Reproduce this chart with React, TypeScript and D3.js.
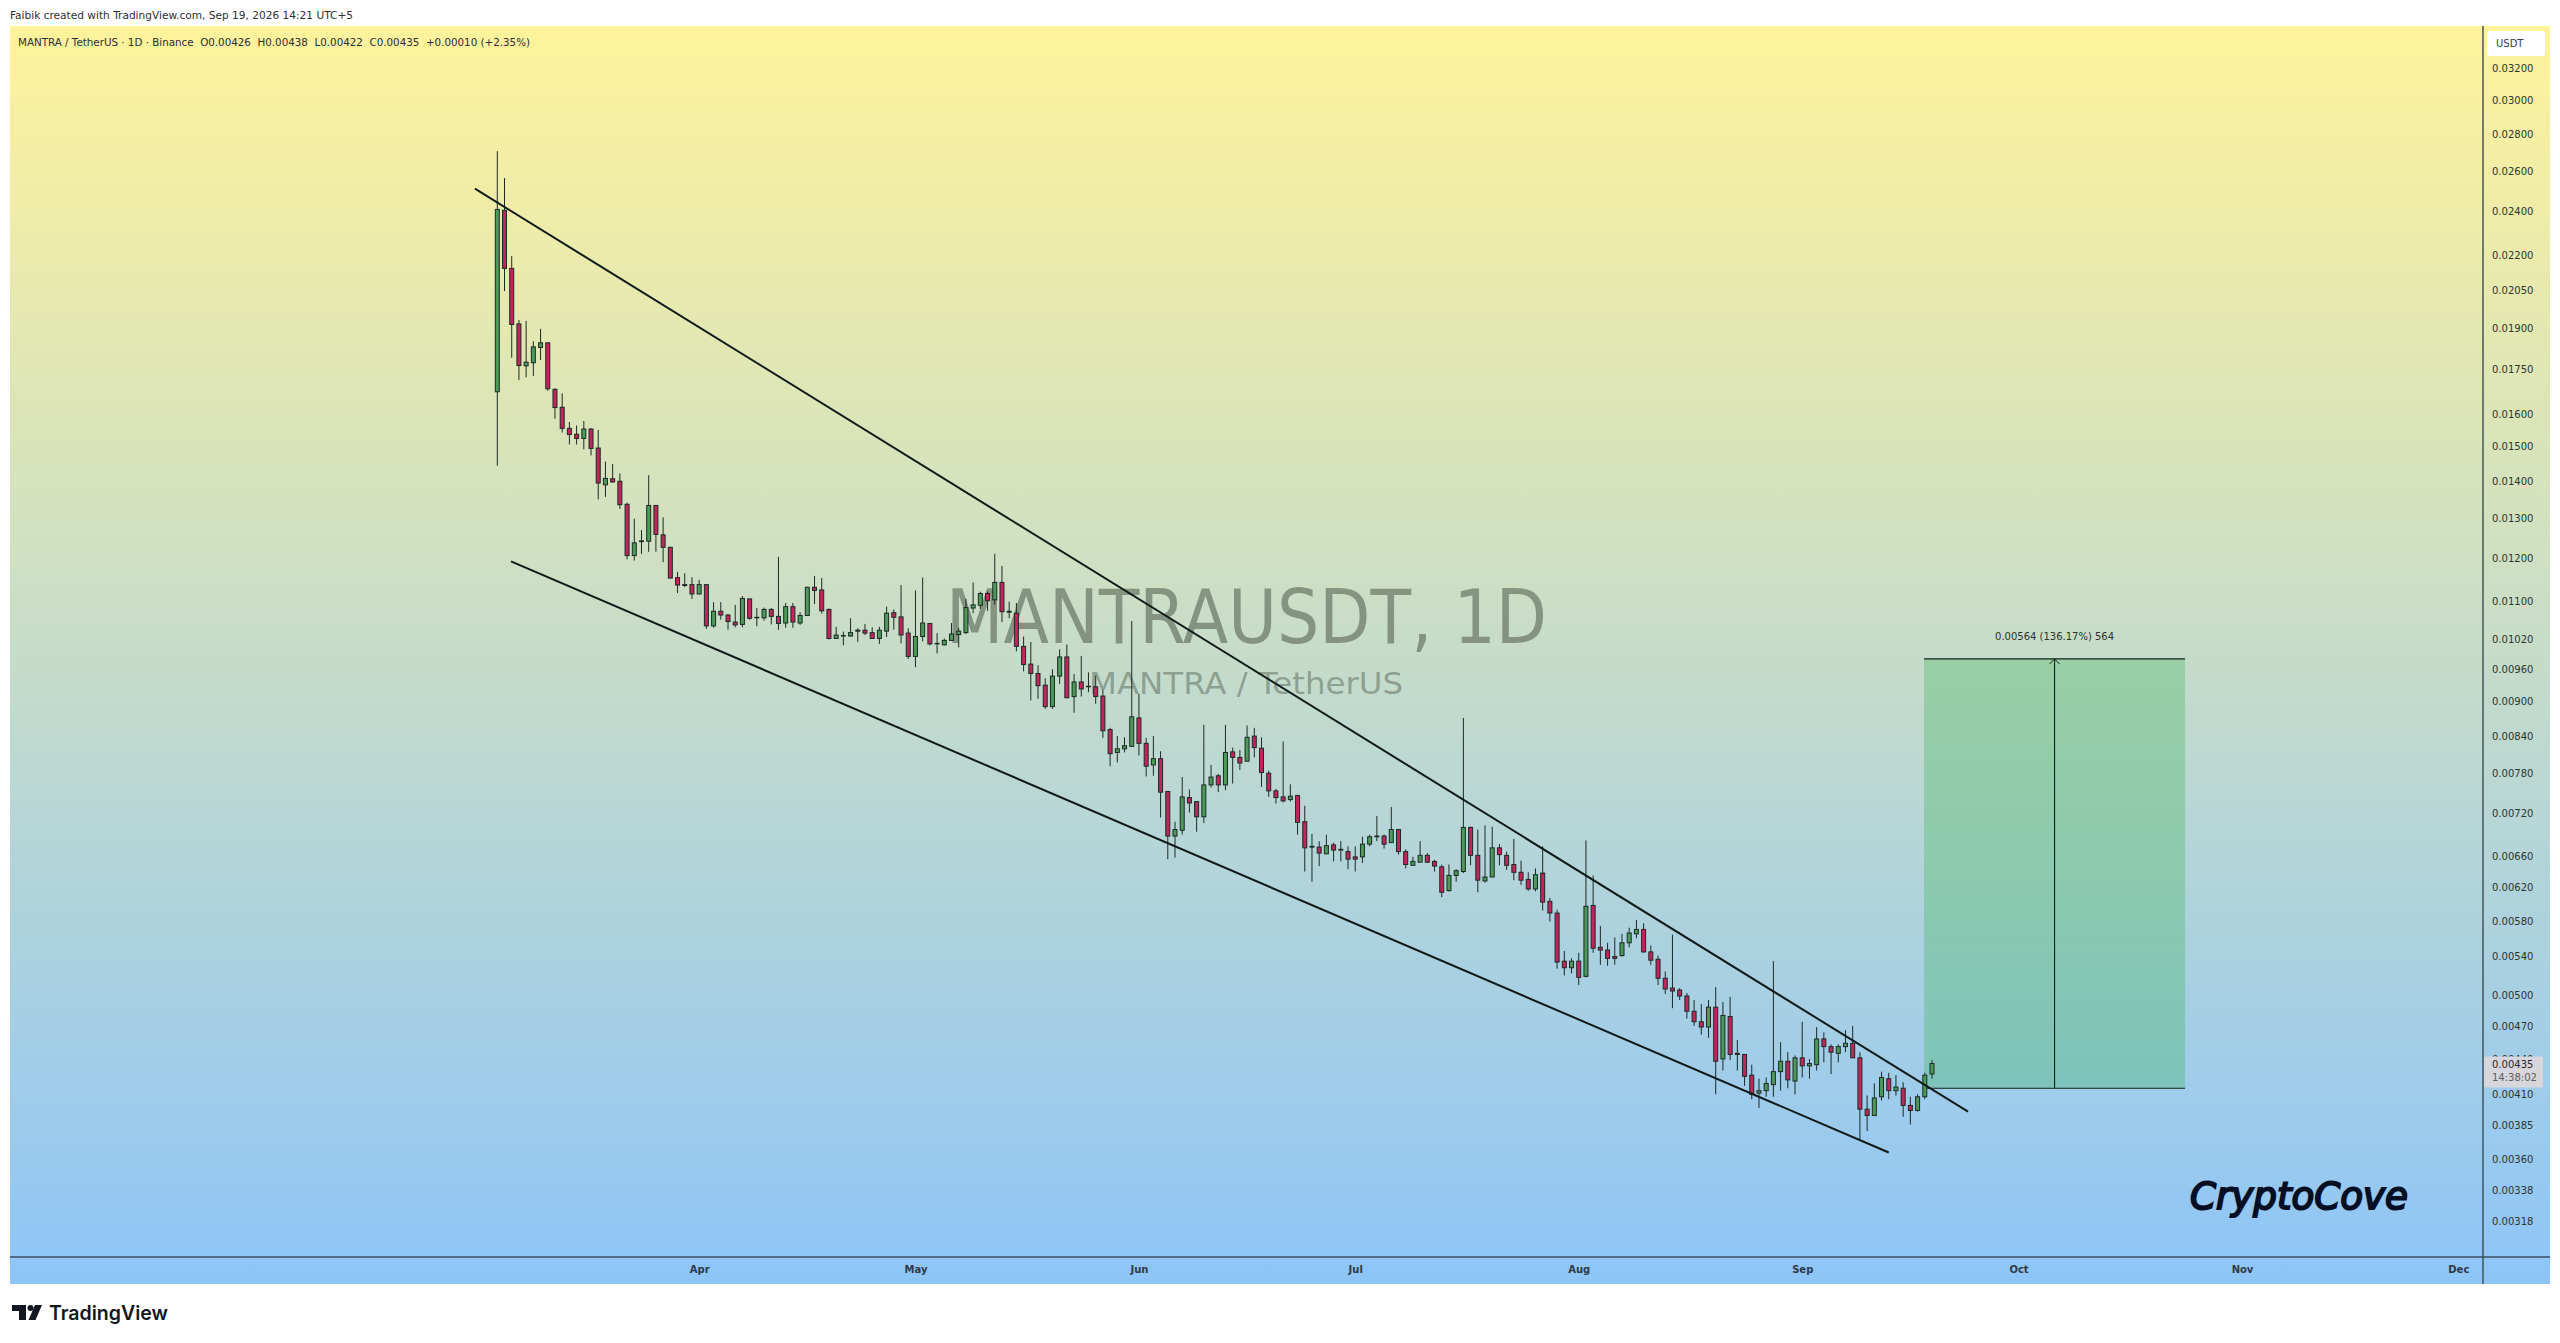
import React, { useEffect, useRef } from "react";
import {
    axisBottom,
    axisRight,
    format,
    line,
    scaleLog,
    scaleUtc,
    select,
    utcDay,
    utcFormat,
} from "d3";

const WIDTH = 2560;
const HEIGHT = 1343;
const PANE_LEFT = 10;
const PANE_RIGHT = 2550;
const PANE_TOP = 26;
const PANE_BOTTOM = 1284;
const TIME_AXIS_Y = 1257;
const PRICE_AXIS_X = 2483;
const BODY_WIDTH = 4;
const UI_FONT = "'DejaVu Sans', sans-serif";
const UP_COLOR = "#4b9a57";
const DOWN_COLOR = "#c4245c";
const WICK_COLOR = "#1c2a26";

const FIRST_DAY = new Date(Date.UTC(2026, 2, 4));
const LAST_DAY = new Date(Date.UTC(2026, 8, 19));

const opens = [
    0.0167, 0.02402, 0.02138, 0.01913, 0.01759, 0.0177, 0.01825, 0.01842, 0.01678, 0.01619,
    0.01552, 0.01534, 0.01521, 0.0155, 0.01492, 0.01386, 0.01403, 0.01396, 0.01333, 0.01203,
    0.01237, 0.01238, 0.0133, 0.01254, 0.01223, 0.01151, 0.01135, 0.01135, 0.01114, 0.01135,
    0.01045, 0.01076, 0.01068, 0.01053, 0.01048, 0.01103, 0.01062, 0.01062, 0.0108, 0.01065,
    0.01051, 0.01086, 0.01051, 0.01067, 0.01129, 0.01123, 0.0108, 0.01019, 0.01024, 0.01024,
    0.01034, 0.01036, 0.01031, 0.01019, 0.01034, 0.01073, 0.01064, 0.0103, 0.00983, 0.01023,
    0.0105, 0.01008, 0.01006, 0.01015, 0.01027, 0.01031, 0.01083, 0.01089, 0.01115, 0.01101,
    0.0114, 0.01076, 0.01072, 0.01003, 0.00968, 0.0095, 0.00928, 0.00889, 0.00945, 0.00982,
    0.00907, 0.00934, 0.00925, 0.00925, 0.00908, 0.00849, 0.00811, 0.00817, 0.00821, 0.00869,
    0.00826, 0.00791, 0.00801, 0.0075, 0.00686, 0.00694, 0.00741, 0.00735, 0.00713, 0.0076,
    0.00774, 0.0076, 0.00812, 0.00803, 0.00797, 0.00838, 0.00818, 0.00778, 0.00751, 0.00742,
    0.00738, 0.00744, 0.00706, 0.00672, 0.00671, 0.00662, 0.00674, 0.00667, 0.00665, 0.00658,
    0.00658, 0.00675, 0.00685, 0.00686, 0.00677, 0.00695, 0.00665, 0.00647, 0.00651, 0.0066,
    0.00652, 0.00645, 0.00615, 0.00634, 0.00639, 0.00698, 0.0066, 0.00627, 0.00632, 0.0067,
    0.0066, 0.00648, 0.00638, 0.00629, 0.00617, 0.00637, 0.00602, 0.00588, 0.00534, 0.00527,
    0.00534, 0.00518, 0.00597, 0.00549, 0.00546, 0.00539, 0.0054, 0.00554, 0.00564, 0.00569,
    0.00544, 0.00536, 0.00516, 0.00506, 0.00504, 0.00498, 0.00483, 0.00473, 0.00468, 0.00487,
    0.00439, 0.00478, 0.00444, 0.00443, 0.00425, 0.0041, 0.00412, 0.00417, 0.00428, 0.00437,
    0.0042, 0.0044, 0.00433, 0.00434, 0.00457, 0.0045, 0.00444, 0.0045, 0.00453, 0.0044,
    0.00397, 0.00392, 0.00407, 0.00422, 0.00412, 0.00414, 0.004, 0.00396, 0.00407, 0.00426,
];

const highs = [
    0.02704, 0.02562, 0.02191, 0.01928, 0.01925, 0.01848, 0.01894, 0.01843, 0.01682, 0.01665,
    0.01572, 0.01561, 0.01575, 0.01552, 0.01547, 0.01452, 0.01445, 0.01418, 0.01338, 0.01295,
    0.01266, 0.01413, 0.0133, 0.01299, 0.01224, 0.01164, 0.01161, 0.01152, 0.01146, 0.01136,
    0.01096, 0.01096, 0.0107, 0.0109, 0.01109, 0.01103, 0.01083, 0.01084, 0.01083, 0.012,
    0.01094, 0.01094, 0.01074, 0.0113, 0.01155, 0.0115, 0.01082, 0.01043, 0.01033, 0.01061,
    0.0104, 0.01049, 0.01042, 0.01043, 0.01086, 0.0108, 0.01134, 0.0104, 0.01122, 0.01151,
    0.01051, 0.0103, 0.01019, 0.01051, 0.01041, 0.01103, 0.0114, 0.01119, 0.01119, 0.01207,
    0.01178, 0.01097, 0.01094, 0.01023, 0.01012, 0.00966, 0.00941, 0.00958, 0.00997, 0.01007,
    0.00949, 0.00984, 0.00952, 0.00946, 0.0092, 0.00852, 0.00838, 0.00836, 0.01055, 0.00912,
    0.00835, 0.00838, 0.00813, 0.00751, 0.00706, 0.00772, 0.00753, 0.00735, 0.00857, 0.00791,
    0.00777, 0.00857, 0.00819, 0.00815, 0.00856, 0.00852, 0.00836, 0.00782, 0.00754, 0.00829,
    0.00761, 0.00745, 0.00729, 0.00689, 0.00679, 0.00688, 0.00677, 0.00679, 0.00672, 0.00672,
    0.00685, 0.00688, 0.00714, 0.00688, 0.00727, 0.00695, 0.00668, 0.00658, 0.00679, 0.00663,
    0.00654, 0.00648, 0.00648, 0.00642, 0.00869, 0.00699, 0.00695, 0.00701, 0.00699, 0.00675,
    0.00665, 0.00682, 0.00653, 0.00638, 0.00643, 0.00672, 0.00606, 0.00592, 0.00545, 0.00537,
    0.00543, 0.0068, 0.00634, 0.00573, 0.00554, 0.0056, 0.00564, 0.00571, 0.0058, 0.00576,
    0.00551, 0.0054, 0.00523, 0.00563, 0.00506, 0.00501, 0.00494, 0.0049, 0.00494, 0.00507,
    0.00492, 0.00497, 0.00456, 0.00443, 0.00434, 0.00422, 0.00423, 0.00534, 0.00454, 0.00445,
    0.00442, 0.00473, 0.00439, 0.00468, 0.00463, 0.00452, 0.00452, 0.00465, 0.00469, 0.00445,
    0.00408, 0.00418, 0.00428, 0.00427, 0.00425, 0.00419, 0.00407, 0.00409, 0.00427, 0.00438,
];

const lows = [
    0.0144, 0.02043, 0.01788, 0.0171, 0.01719, 0.01724, 0.0178, 0.01673, 0.01582, 0.01539,
    0.01503, 0.01503, 0.01488, 0.0147, 0.01346, 0.01353, 0.01392, 0.01321, 0.01194, 0.01191,
    0.01207, 0.01212, 0.01212, 0.01187, 0.01149, 0.01116, 0.01129, 0.01103, 0.01113, 0.01039,
    0.01041, 0.01058, 0.01037, 0.01042, 0.01042, 0.01058, 0.01044, 0.01056, 0.01048, 0.01037,
    0.01041, 0.01041, 0.01047, 0.01066, 0.01092, 0.01071, 0.01017, 0.01018, 0.01005, 0.01023,
    0.01012, 0.01026, 0.01018, 0.01008, 0.01022, 0.01037, 0.01009, 0.00978, 0.00962, 0.01013,
    0.01005, 0.00989, 0.01005, 0.01014, 0.01001, 0.01028, 0.01072, 0.01081, 0.01077, 0.0109,
    0.01053, 0.01061, 0.00993, 0.00954, 0.009, 0.00903, 0.00885, 0.00885, 0.0093, 0.00904,
    0.00878, 0.00907, 0.00915, 0.00894, 0.00835, 0.00789, 0.00795, 0.00811, 0.0082, 0.00806,
    0.00773, 0.00774, 0.00712, 0.00655, 0.00657, 0.00688, 0.00719, 0.00692, 0.00704, 0.00756,
    0.00749, 0.00752, 0.00762, 0.00783, 0.00796, 0.00803, 0.00757, 0.00742, 0.00732, 0.00734,
    0.00735, 0.00688, 0.00639, 0.00626, 0.00646, 0.00662, 0.00652, 0.00652, 0.00642, 0.00639,
    0.0065, 0.00672, 0.00679, 0.00669, 0.00677, 0.00661, 0.00643, 0.00647, 0.00651, 0.0065,
    0.00639, 0.00607, 0.00614, 0.00626, 0.00637, 0.00647, 0.00613, 0.00625, 0.00632, 0.00647,
    0.00641, 0.00628, 0.00622, 0.00615, 0.00614, 0.00591, 0.00578, 0.00526, 0.00519, 0.00521,
    0.00509, 0.00517, 0.00543, 0.0053, 0.00529, 0.0053, 0.00539, 0.00549, 0.00559, 0.00543,
    0.0053, 0.00509, 0.005, 0.00486, 0.00494, 0.00476, 0.00469, 0.00461, 0.00458, 0.00409,
    0.00429, 0.00438, 0.00429, 0.00416, 0.00405, 0.00398, 0.00407, 0.00407, 0.00412, 0.00414,
    0.00409, 0.00423, 0.00422, 0.00429, 0.00436, 0.00426, 0.00436, 0.00445, 0.0044, 0.00374,
    0.0038, 0.00392, 0.00404, 0.00405, 0.00408, 0.00391, 0.00385, 0.00395, 0.00405, 0.00422,
];

const closes = [
    0.02406, 0.02138, 0.01911, 0.0176, 0.01772, 0.01827, 0.01842, 0.0168, 0.01618, 0.01552,
    0.01533, 0.01521, 0.0155, 0.01491, 0.01391, 0.01404, 0.01394, 0.01332, 0.01203, 0.01234,
    0.01239, 0.0133, 0.01255, 0.01223, 0.0115, 0.01134, 0.01133, 0.01114, 0.01135, 0.01045,
    0.01076, 0.01068, 0.01054, 0.01047, 0.01104, 0.01061, 0.01063, 0.0108, 0.01065, 0.0105,
    0.01086, 0.01053, 0.01067, 0.01129, 0.01122, 0.01077, 0.01019, 0.01026, 0.01025, 0.01031,
    0.01036, 0.0103, 0.01019, 0.01036, 0.01072, 0.01063, 0.01026, 0.00983, 0.01023, 0.01051,
    0.01008, 0.01009, 0.01015, 0.01028, 0.01034, 0.01084, 0.0109, 0.01115, 0.01099, 0.0114,
    0.01075, 0.01074, 0.01003, 0.00967, 0.0095, 0.00927, 0.00889, 0.00945, 0.00982, 0.00905,
    0.00934, 0.00921, 0.00926, 0.00907, 0.00847, 0.00809, 0.00817, 0.00822, 0.00871, 0.00826,
    0.00789, 0.00801, 0.00749, 0.00686, 0.00695, 0.00742, 0.00733, 0.00713, 0.0076, 0.00772,
    0.0076, 0.00811, 0.00803, 0.00794, 0.00836, 0.00819, 0.00779, 0.00751, 0.00741, 0.00736,
    0.00743, 0.00705, 0.0067, 0.00671, 0.00663, 0.00673, 0.00667, 0.00668, 0.00655, 0.00655,
    0.00675, 0.00685, 0.00686, 0.00675, 0.00695, 0.00665, 0.00648, 0.00652, 0.0066, 0.00651,
    0.00646, 0.00613, 0.00634, 0.0064, 0.00698, 0.0066, 0.00628, 0.00632, 0.0067, 0.00661,
    0.00647, 0.00638, 0.00628, 0.00617, 0.00635, 0.00601, 0.00588, 0.00533, 0.00527, 0.00534,
    0.00517, 0.00596, 0.00548, 0.00546, 0.00537, 0.00537, 0.00554, 0.00565, 0.00569, 0.00544,
    0.00535, 0.00516, 0.00505, 0.00503, 0.00498, 0.00483, 0.00473, 0.00468, 0.00487, 0.00437,
    0.00479, 0.00443, 0.00443, 0.00424, 0.00409, 0.00412, 0.00418, 0.00428, 0.00437, 0.00421,
    0.0044, 0.00433, 0.00435, 0.00457, 0.0045, 0.00445, 0.0045, 0.00453, 0.0044, 0.00397,
    0.00392, 0.00406, 0.00423, 0.00412, 0.00415, 0.004, 0.00396, 0.00407, 0.00425, 0.00435,
];

const priceTicks = [
    0.032, 0.03, 0.028, 0.026, 0.024, 0.022, 0.0205, 0.019, 0.0175, 0.016, 0.015, 0.014, 0.013,
    0.012, 0.011, 0.0102, 0.0096, 0.009, 0.0084, 0.0078, 0.0072, 0.0066, 0.0062, 0.0058, 0.0054,
    0.005, 0.0047, 0.0044, 0.0041, 0.00385, 0.0036, 0.00338, 0.00318,
];

const monthTicks = [
    new Date(Date.UTC(2026, 3, 1)),
    new Date(Date.UTC(2026, 4, 1)),
    new Date(Date.UTC(2026, 5, 1)),
    new Date(Date.UTC(2026, 6, 1)),
    new Date(Date.UTC(2026, 7, 1)),
    new Date(Date.UTC(2026, 8, 1)),
    new Date(Date.UTC(2026, 9, 1)),
    new Date(Date.UTC(2026, 10, 1)),
    new Date(Date.UTC(2026, 11, 1)),
];

// falling wedge, both drawn by hand on the chart
const upperLineDays = [-3.1, 204.0];
const upperLinePrices = [0.02508, 0.00395];
const lowerLineDays = [1.9, 193.0];
const lowerLinePrices = [0.01189, 0.00364];

// long position tool
const targetDays = [197.9, 234.1];
const targetPrices = [0.00414, 0.00978];
const targetLabel = "0.00564 (136.17%) 564";

const lastPrice = 0.00435;

const xScale = scaleUtc().domain([FIRST_DAY, LAST_DAY]).range([497.3, 1932]);
const yScale = scaleLog().domain([0.032, 0.00318]).range([67, 1220]);

const dayX = (day: number) => xScale(new Date(FIRST_DAY.getTime() + day * 86400000));

const drawBackground = (svg: any) => {
    const gradient = svg
        .append("defs")
        .append("linearGradient")
        .attr("id", "pane-bg")
        .attr("x1", 0)
        .attr("y1", 0)
        .attr("x2", 0)
        .attr("y2", 1);
    gradient.append("stop").attr("offset", "0%").attr("stop-color", "#fff39b");
    gradient.append("stop").attr("offset", "100%").attr("stop-color", "#8dc5f8");

    svg.append("rect").attr("width", WIDTH).attr("height", HEIGHT).attr("fill", "#ffffff");
    svg.append("rect")
        .attr("x", PANE_LEFT)
        .attr("y", PANE_TOP)
        .attr("width", PANE_RIGHT - PANE_LEFT)
        .attr("height", PANE_BOTTOM - PANE_TOP)
        .attr("fill", "url(#pane-bg)");
};

const drawWatermark = (svg: any) => {
    svg.append("text")
        .attr("x", 946)
        .attr("y", 643)
        .attr("font-family", UI_FONT)
        .attr("font-size", 75)
        .attr("textLength", 601)
        .attr("lengthAdjust", "spacingAndGlyphs")
        .attr("fill", "#3f4a3c")
        .attr("fill-opacity", 0.5)
        .text("MANTRAUSDT, 1D");
    svg.append("text")
        .attr("x", 1089)
        .attr("y", 694)
        .attr("font-family", UI_FONT)
        .attr("font-size", 31)
        .attr("textLength", 314)
        .attr("lengthAdjust", "spacingAndGlyphs")
        .attr("fill", "#3f4a3c")
        .attr("fill-opacity", 0.42)
        .text("MANTRA / TetherUS");
};

const drawTarget = (svg: any) => {
    const left = dayX(targetDays[0]);
    const right = dayX(targetDays[1]);
    const middle = (left + right) / 2;
    const bottom = yScale(targetPrices[0]);
    const top = yScale(targetPrices[1]);

    svg.append("rect")
        .attr("x", left)
        .attr("y", top)
        .attr("width", right - left)
        .attr("height", bottom - top)
        .attr("fill", "#38b052")
        .attr("fill-opacity", 0.31);
    [top, bottom].forEach(y => {
        svg.append("line")
            .attr("x1", left)
            .attr("x2", right)
            .attr("y1", y)
            .attr("y2", y)
            .attr("stroke", "#10201a")
            .attr("stroke-width", 1.2);
    });
    svg.append("line")
        .attr("x1", middle)
        .attr("x2", middle)
        .attr("y1", top)
        .attr("y2", bottom)
        .attr("stroke", "#10201a")
        .attr("stroke-width", 1.1);
    svg.append("path")
        .attr("d", `M${middle - 5},${top + 5}L${middle},${top}L${middle + 5},${top + 5}`)
        .attr("fill", "none")
        .attr("stroke", "#10201a")
        .attr("stroke-width", 1);
    svg.append("text")
        .attr("x", middle - 59.5)
        .attr("y", top - 18.5)
        .attr("font-family", UI_FONT)
        .attr("font-size", 11)
        .attr("textLength", 119)
        .attr("lengthAdjust", "spacingAndGlyphs")
        .attr("fill", "#2a332e")
        .text(targetLabel);
};

const drawCandles = (svg: any) => {
    const group = svg.append("g");
    const candles = group
        .selectAll("g")
        .data(opens.map((open, i) => ({ open, high: highs[i], low: lows[i], close: closes[i], i })))
        .enter()
        .append("g")
        .attr("transform", (d: any) => `translate(${xScale(utcDay.offset(FIRST_DAY, d.i))},0)`);
    candles
        .append("line")
        .attr("y1", (d: any) => yScale(d.high))
        .attr("y2", (d: any) => yScale(d.low))
        .attr("stroke", WICK_COLOR)
        .attr("stroke-width", 1);
    candles
        .append("rect")
        .attr("x", -BODY_WIDTH / 2)
        .attr("width", BODY_WIDTH)
        .attr("y", (d: any) => yScale(Math.max(d.open, d.close)))
        .attr("height", (d: any) => Math.abs(yScale(d.open) - yScale(d.close)))
        .attr("fill", (d: any) => (d.close >= d.open ? UP_COLOR : DOWN_COLOR))
        .attr("stroke", WICK_COLOR)
        .attr("stroke-width", 1);
};

const drawWedge = (svg: any) => {
    const segments = [
        { days: upperLineDays, prices: upperLinePrices },
        { days: lowerLineDays, prices: lowerLinePrices },
    ];
    segments.forEach(({ days, prices }) => {
        const path = line<number>()
            .x(d => dayX(d))
            .y((_, i) => yScale(prices[i]));
        svg.append("path")
            .attr("d", path(days))
            .attr("fill", "none")
            .attr("stroke", "#101a18")
            .attr("stroke-width", 2);
    });
};

const drawAxes = (svg: any) => {
    const timeAxis = svg
        .append("g")
        .attr("transform", `translate(0,${TIME_AXIS_Y})`)
        .call(
            axisBottom(xScale)
                .tickValues(monthTicks)
                .tickSize(0)
                .tickPadding(9)
                .tickFormat(d => utcFormat("%b")(d as Date)),
        );
    timeAxis.select(".domain").remove();
    timeAxis
        .selectAll("text")
        .attr("font-family", UI_FONT)
        .attr("font-size", 10)
        .attr("font-weight", 700)
        .attr("fill", "#2c3a48");

    const priceAxis = svg
        .append("g")
        .attr("transform", `translate(${PRICE_AXIS_X},1)`)
        .call(
            axisRight(yScale)
                .tickValues(priceTicks)
                .tickSize(0)
                .tickPadding(9)
                .tickFormat(d => format(".5f")(d as number)),
        );
    priceAxis.select(".domain").remove();
    priceAxis
        .selectAll("text")
        .attr("font-family", UI_FONT)
        .attr("font-size", 10)
        .attr("fill", "#2c3530");

    svg.append("line")
        .attr("x1", PANE_LEFT)
        .attr("x2", PANE_RIGHT)
        .attr("y1", TIME_AXIS_Y)
        .attr("y2", TIME_AXIS_Y)
        .attr("stroke", "#3c4c60")
        .attr("stroke-width", 1.4);
    svg.append("line")
        .attr("x1", PRICE_AXIS_X)
        .attr("x2", PRICE_AXIS_X)
        .attr("y1", PANE_TOP)
        .attr("y2", PANE_BOTTOM)
        .attr("stroke", "#3c4c50")
        .attr("stroke-width", 1.4);

    // currency badge
    svg.append("rect")
        .attr("x", 2487)
        .attr("y", 31)
        .attr("width", 58)
        .attr("height", 25)
        .attr("rx", 3)
        .attr("fill", "#ffffff");
    svg.append("text")
        .attr("x", 2496)
        .attr("y", 47)
        .attr("font-family", UI_FONT)
        .attr("font-size", 10)
        .attr("fill", "#3a3f48")
        .text("USDT");

    // last price tag
    const lastY = yScale(lastPrice);
    svg.append("rect")
        .attr("x", 2484)
        .attr("y", lastY - 7)
        .attr("width", 59)
        .attr("height", 31)
        .attr("fill", "#d6d6dc");
    svg.append("text")
        .attr("x", 2492)
        .attr("y", lastY + 4.5)
        .attr("font-family", UI_FONT)
        .attr("font-size", 10)
        .attr("fill", "#26282e")
        .text(format(".5f")(lastPrice));
    svg.append("text")
        .attr("x", 2492)
        .attr("y", lastY + 17.5)
        .attr("font-family", UI_FONT)
        .attr("font-size", 10)
        .attr("fill", "#5a5d66")
        .text("14:38:02");
};

const drawLabels = (svg: any) => {
    svg.append("text")
        .attr("x", 10)
        .attr("y", 18.5)
        .attr("font-family", UI_FONT)
        .attr("font-size", 11)
        .attr("textLength", 343)
        .attr("lengthAdjust", "spacingAndGlyphs")
        .attr("fill", "#2b2f36")
        .text("Faibik created with TradingView.com, Sep 19, 2026 14:21 UTC+5");
    svg.append("text")
        .attr("x", 18)
        .attr("y", 45.5)
        .attr("font-family", UI_FONT)
        .attr("font-size", 11)
        .attr("textLength", 512)
        .attr("lengthAdjust", "spacingAndGlyphs")
        .style("white-space", "pre")
        .attr("fill", "#2b2f36")
        .text("MANTRA / TetherUS · 1D · Binance  O0.00426  H0.00438  L0.00422  C0.00435  +0.00010 (+2.35%)");

    svg.append("text")
        .attr("x", 2190)
        .attr("y", 1209)
        .attr("font-family", UI_FONT)
        .attr("font-size", 38)
        .attr("font-style", "italic")
        .attr("textLength", 218)
        .attr("lengthAdjust", "spacingAndGlyphs")
        .attr("fill", "#050f24")
        .attr("stroke", "#050f24")
        .attr("stroke-width", 2)
        .text("CryptoCove");

    // TradingView footer logo
    const logo = svg.append("g").attr("transform", "translate(12,1305)").attr("fill", "#131722");
    logo.append("path").attr("d", "M0,0H14V15H7V6H0Z");
    logo.append("circle").attr("cx", 18.5).attr("cy", 3).attr("r", 3);
    logo.append("path").attr("d", "M23,0H30L23.5,15H16.5Z");
    svg.append("text")
        .attr("x", 49)
        .attr("y", 1319.5)
        .attr("font-family", "Inter, sans-serif")
        .attr("font-size", 20)
        .attr("font-weight", 600)
        .attr("textLength", 119)
        .attr("lengthAdjust", "spacingAndGlyphs")
        .attr("fill", "#131722")
        .text("TradingView");
};

export default function App() {
    const svgRef = useRef<SVGSVGElement>(null);

    useEffect(() => {
        const svg = select(svgRef.current);
        svg.selectAll("*").remove();
        drawBackground(svg);
        drawWatermark(svg);
        drawTarget(svg);
        drawCandles(svg);
        drawWedge(svg);
        drawAxes(svg);
        drawLabels(svg);
    }, []);

    return (
        <svg
            ref={svgRef}
            width={WIDTH}
            height={HEIGHT}
            style={{ position: "absolute", left: 0, top: 0, display: "block" }}
        />
    );
}
